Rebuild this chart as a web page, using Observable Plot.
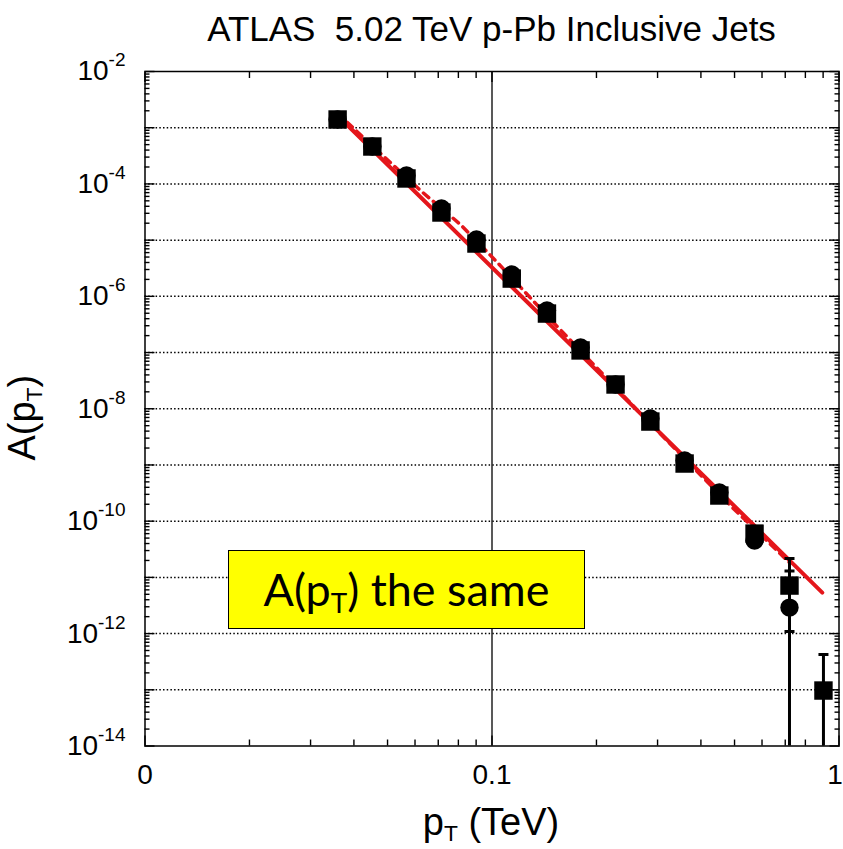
<!DOCTYPE html>
<html>
<head>
<meta charset="utf-8">
<script src="https://cdn.jsdelivr.net/npm/d3@7"></script>
<script src="https://cdn.jsdelivr.net/npm/@observablehq/plot@0.6"></script>
<style>
  body { margin: 0; background: #fff; }
  #wrap { position: relative; width: 843px; height: 849px; font-family: "Liberation Sans", Arial, sans-serif; color: #000; overflow: hidden; }
  #title { position: absolute; left: 0; top: 0; width: 843px; height: 50px; box-sizing: border-box; padding-left: 140px; text-align: center; font-size: 35px; line-height: 58px; white-space: pre; }
  #chart { position: absolute; left: 0; top: 50px; }
  #xlabel { position: absolute; left: 291px; width: 400px; top: 802px; text-align: center; font-size: 38px; line-height: 40px; white-space: pre; }
  #ylabel { position: absolute; left: -172px; top: 392px; width: 400px; text-align: center; font-size: 38px; line-height: 40px; transform: rotate(-90deg); }
  sub { font-size: 0.6em; vertical-align: -0.28em; }
  #note { position: absolute; left: 228px; top: 550px; width: 357px; height: 79px; box-sizing: border-box; background: #ffff00; border: 1.5px solid #000; font-family: Lato, "Open Sans", sans-serif; text-align: center; line-height: 76px; white-space: nowrap; }
  #note sub { font-size: 0.62em; vertical-align: -0.25em; }
</style>
</head>
<body>
<div id="wrap">
  <div id="title">ATLAS  5.02 TeV p-Pb Inclusive Jets</div>
  <div id="chart"></div>
  <div id="xlabel">p<sub>T</sub> (TeV)</div>
  <div id="ylabel">A(p<sub>T</sub>)</div>
  <div id="note"><span id="notetext">A(p<sub>T</sub>) the same</span></div>
</div>
<script>
// ---- data ----
const pT = [0.0359, 0.0452, 0.0567, 0.0715, 0.0902, 0.114, 0.144, 0.180, 0.227, 0.286, 0.359, 0.452, 0.571, 0.720, 0.902];
const squareA = [1.40e-3, 4.63e-4, 1.25e-4, 3.10e-5, 8.70e-6, 2.07e-6, 4.94e-7, 1.09e-7, 2.70e-8, 5.92e-9, 1.06e-9, 2.86e-10, 6.01e-11, 7.15e-12, 9.7e-14];
const circlePT = [0.0359, 0.0452, 0.0567, 0.0715, 0.0902, 0.114, 0.144, 0.180, 0.227, 0.286, 0.359, 0.452, 0.571, 0.720];
const circleA = [1.40e-3, 4.63e-4, 1.41e-4, 3.65e-5, 1.03e-5, 2.44e-6, 5.59e-7, 1.23e-7, 2.70e-8, 6.70e-9, 1.20e-9, 3.23e-10, 4.52e-11, 2.90e-12];

// error bars (only the last points show visible bars)
const errPT = [0.720, 0.902, 0.720];
const errLow = [1.09e-12, 1e-16, 1e-16];
const errHigh = [2.16e-11, 4.23e-13, 1.3e-11];

// fits
const fitSolidPT = [0.0354, 0.180, 0.895];
const fitSolidA = [1.79e-3, 9.2e-8, 5.37e-12];
const fitDashedPT = [0.0359, 0.0622, 0.0811, 0.1037, 0.1503, 0.268, 0.493, 0.720];
const fitDashedA = [1.79e-3, 7.63e-5, 1.90e-5, 3.99e-6, 3.42e-7, 8.2e-9, 1.75e-10, 1.83e-11];

// axes
const xDomain = [0.01, 1];
const yDomain = [1e-14, 1e-2];
const xMajor = [0.01, 0.1, 1];
const xTickLabels = ["0", "0.1", "1"];
const yExponents = [-14, -13, -12, -11, -10, -9, -8, -7, -6, -5, -4, -3, -2];
const yLabelExponents = [-2, -4, -6, -8, -10, -12, -14];
const minorMultipliers = [2, 3, 4, 5, 6, 7, 8, 9];

// ---- derived ----
const yMajor = yExponents.map(e => Math.pow(10, e));
const yGrid = yExponents.slice(1, -1).map(e => Math.pow(10, e));
const yMinor = yExponents.slice(0, -1).flatMap(e => minorMultipliers.map(m => m * Math.pow(10, e)));
const xMinor = xMajor.slice(0, -1).flatMap(b => minorMultipliers.map(m => m * b));
const squares = pT.map((x, i) => ({x, y: squareA[i]}));
const circles = circlePT.map((x, i) => ({x, y: circleA[i]}));
const errs = errPT.map((x, i) => ({x, lo: errLow[i], hi: errHigh[i]}));
const caps = errs.flatMap(d => [{x: d.x, y: d.lo}, {x: d.x, y: d.hi}]);
const solid = fitSolidPT.map((x, i) => ({x, y: fitSolidA[i]}));
const dashed = fitDashedPT.map((x, i) => ({x, y: fitDashedA[i]}));
const yLabels = yLabelExponents.map(e => ({y: Math.pow(10, e), e}));
const xLabels = xMajor.map((x, i) => ({x, t: xTickLabels[i]}));

const capSymbol = {draw(ctx, size) { const r = Math.sqrt(size / Math.PI); ctx.moveTo(-r, 0); ctx.lineTo(r, 0); }};
const red = "#e4161b";
const tickOpts = {tickFormat: () => "", label: null, stroke: "black", strokeWidth: 1.4};

const plot = Plot.plot({
  width: 843,
  height: 799,
  marginLeft: 144.5,
  marginRight: 4.5,
  marginTop: 21,
  marginBottom: 103.5,
  x: {type: "log", domain: xDomain},
  y: {type: "log", domain: yDomain},
  style: {fontFamily: "'Liberation Sans', Arial, sans-serif", background: "white", overflow: "visible", color: "black"},
  marks: [
    Plot.ruleY(yGrid, {stroke: "black", strokeWidth: 1.5, strokeDasharray: "1.5,2.2"}),
    Plot.ruleX([0.1], {stroke: "#222", strokeWidth: 1.5}),
    Plot.line(solid, {x: "x", y: "y", stroke: red, strokeWidth: 4}),
    Plot.line(dashed, {x: "x", y: "y", stroke: red, strokeWidth: 3.5, strokeDasharray: "7,6"}),
    Plot.ruleX(errs, {x: "x", y1: "lo", y2: "hi", stroke: "black", strokeWidth: 3, clip: true}),
    Plot.dot(caps, {x: "x", y: "y", symbol: capSymbol, r: 5, fill: "none", stroke: "black", strokeWidth: 3, clip: true}),
    Plot.dot(circles, {x: "x", y: "y", symbol: "circle", r: 9.2, fill: "black", stroke: "none"}),
    Plot.dot(squares, {x: "x", y: "y", symbol: "square", r: 10.4, fill: "black", stroke: "none"}),
    Plot.frame({stroke: "black", strokeWidth: 1.5}),
    Plot.axisY({...tickOpts, anchor: "left", ticks: yMajor, tickSize: -10}),
    Plot.axisY({...tickOpts, anchor: "left", ticks: yMinor, tickSize: -5}),
    Plot.axisY({...tickOpts, anchor: "right", ticks: yMajor, tickSize: -10}),
    Plot.axisY({...tickOpts, anchor: "right", ticks: yMinor, tickSize: -5}),
    Plot.axisX({...tickOpts, anchor: "bottom", ticks: xMajor, tickSize: -10}),
    Plot.axisX({...tickOpts, anchor: "bottom", ticks: xMinor, tickSize: -6}),
    Plot.axisX({...tickOpts, anchor: "top", ticks: xMajor, tickSize: -10}),
    Plot.axisX({...tickOpts, anchor: "top", ticks: xMinor, tickSize: -6}),
    Plot.text(yLabels, {y: "y", frameAnchor: "left", dx: -19.5, textAnchor: "end", text: d => "10^" + d.e, fontSize: 28, fill: "black"}),
    Plot.text(xLabels, {x: "x", frameAnchor: "bottom", dy: 38, textAnchor: "middle", text: "t", fontSize: 28, fill: "black"})
  ]
});
document.getElementById("chart").appendChild(plot);

d3.select(plot).selectAll("text").each(function() {
  const t = this.textContent;
  const sel = d3.select(this);
  if (t.startsWith("10^")) {
    // superscript exponent
    sel.text(null);
    sel.append("tspan").text("10");
    sel.append("tspan").attr("dy", "-14").attr("font-size", 19).text(t.slice(3));
  } else if (t === xTickLabels[xTickLabels.length - 1]) {
    // keep the last x label inside the window
    sel.attr("dx", -4);
  }
});

// fit the note text into the box width (286px)
const nt = document.getElementById("notetext");
nt.style.fontSize = "40px";
const w = nt.getBoundingClientRect().width;
nt.style.fontSize = (40 * 286 / w).toFixed(1) + "px";
</script>
</body>
</html>
